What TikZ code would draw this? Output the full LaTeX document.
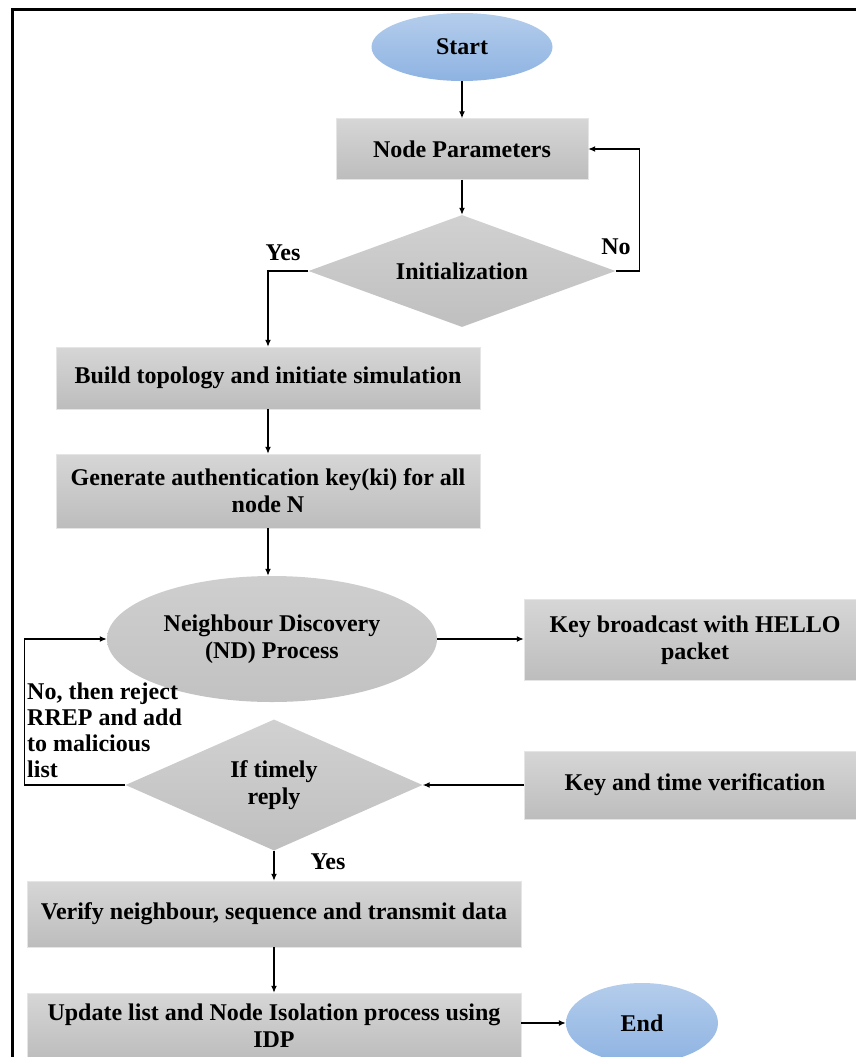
\documentclass[tikz,border=0pt]{standalone}
\usepackage{fontspec}
\setmainfont{Liberation Serif}
\usetikzlibrary{shapes.geometric,arrows.meta}
\definecolor{termtop}{HTML}{B4CDEC}
\definecolor{termbot}{HTML}{8EB3E2}
\begin{document}
\begin{tikzpicture}[x=1pt,y=-1pt,
  font=\bfseries\fontsize{24}{27}\selectfont,
  box/.style={rectangle,draw=black!10,top color=black!16,bottom color=black!26,inner sep=0pt,align=center},
  term/.style={ellipse,top color=termtop,bottom color=termbot,inner sep=0pt},
  cond/.style={diamond,top color=black!18,bottom color=black!25,inner sep=0pt,align=center},
  line/.style={draw,line width=1.3pt,-{Latex[length=7pt,width=6pt]}}]
\clip (0,0) rectangle (856,1057);
\draw[line width=3pt] (12,1080) -- (12,10) -- (880,10);
\node [term,minimum width=181pt,minimum height=68pt] (s) at (462,47) {Start};
\node [box,minimum width=252pt,minimum height=61pt] (p) at (462,149) {Node Parameters};
\node [cond,aspect=2.74,minimum width=307pt,minimum height=112pt] (i) at (462,271) {Initialization};
\node [box,minimum width=424pt,minimum height=62pt] (b) at (268,378) {Build topology and initiate simulation};
\node [box,minimum width=424pt,minimum height=74pt] (g) at (268,491) {Generate authentication key(ki) for all\\node N};
\node [ellipse,top color=black!19,bottom color=black!24,inner sep=0pt,align=center,
  minimum width=330pt,minimum height=126pt] (n) at (272,639) {Neighbour Discovery\\(ND) Process};
\node [box,minimum width=342pt,minimum height=81pt] (h) at (695,640) {Key broadcast with HELLO\\packet};
\node [box,minimum width=342pt,minimum height=68pt] (k) at (695,785) {Key and time verification};
\node [cond,aspect=2.27,minimum width=297pt,minimum height=131pt] (t) at (274,785) {If timely\\reply};
\node [box,minimum width=494pt,minimum height=66pt] (v) at (274,914) {Verify neighbour, sequence and transmit data};
\node [box,minimum width=494pt,minimum height=66pt] (u) at (274,1026) {Update list and Node Isolation process using\\IDP};
\node [term,minimum width=152pt,minimum height=80pt] (e) at (642,1023) {End};
\node (y1) at (283,253) {Yes};
\node (n1) at (616,247) {No};
\node (y2) at (328,862) {Yes};
\node [align=left,anchor=north west,inner sep=0pt,font=\bfseries\fontsize{24}{26}\selectfont] (r) at (27,683)
  {No, then reject\\RREP and add\\to malicious\\list};
\draw[line] (s) -- (p);
\draw[line] (p) -- (i);
\draw[line] (i.east) -- ++(24,0) |- (p.east);
\draw[line] (i.west) -| (b.north);
\draw[line] (b) -- (g);
\draw[line] (g.south) -- (g.south |- n.north);
\draw[line] (n.east) -- (n.east -| h.west);
\draw[line] (k) -- (t);
\draw[line] (t.west) -- ++(-101,0) |- (n.west);
\draw[line] (t) -- (v);
\draw[line] (v) -- (u);
\draw[line] (e.west -| u.east) -- (e.west);
\end{tikzpicture}
\end{document}
